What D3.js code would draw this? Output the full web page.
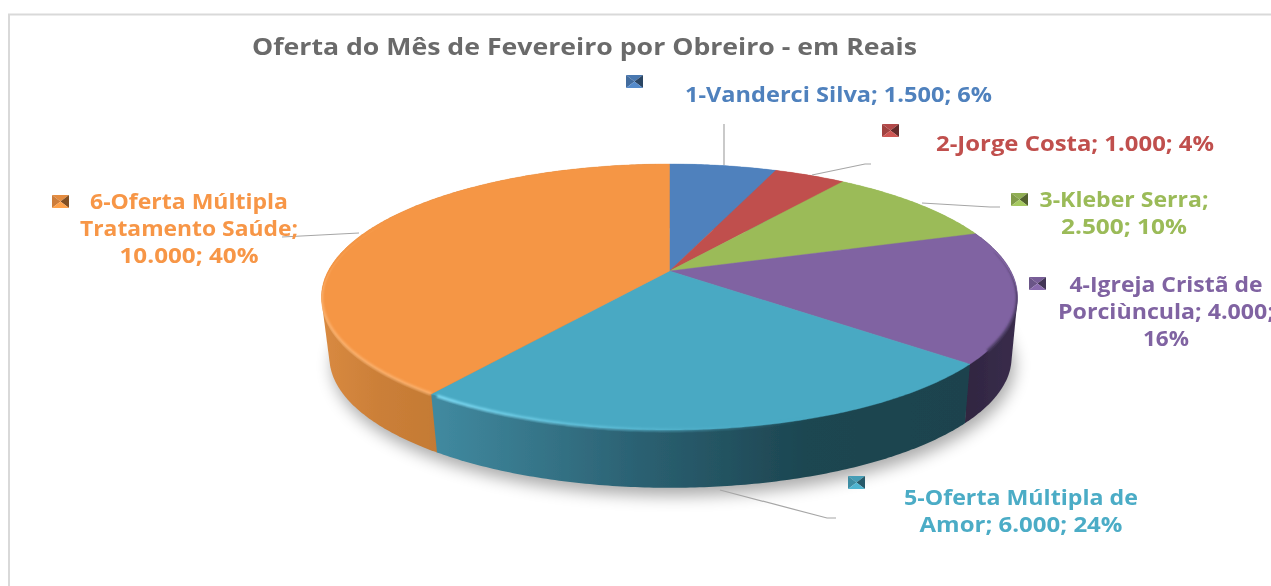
<!DOCTYPE html>
<html lang="en">
<head>
    <title>Oferta do Mês de Fevereiro</title>
    <meta charset="utf-8">
    <script src="https://d3js.org/d3.v7.min.js"></script>
    <style>
        html, body { margin: 0; padding: 0; background: #fff; overflow: hidden; }
        text { font-family: "Open Sans", sans-serif; font-weight: 700; text-anchor: middle; }
    </style>
</head>
<body>
<div id="visualization"></div>
<script>
    // Data
    const titleText = "Oferta do Mês de Fevereiro por Obreiro - em Reais";
    const values = [1500, 1000, 2500, 4000, 6000, 10000];
    const labelLines = [
        ["1-Vanderci Silva; 1.500; 6%"],
        ["2-Jorge Costa; 1.000; 4%"],
        ["3-Kleber Serra;", "2.500; 10%"],
        ["4-Igreja Cristã de", "Porciùncula; 4.000;", "16%"],
        ["5-Oferta Múltipla de", "Amor; 6.000; 24%"],
        ["6-Oferta Múltipla", "Tratamento Saúde;", "10.000; 40%"]
    ];

    // Styles
    const topColors = ["#4f81bd", "#c0504d", "#9bbb59", "#8064a2", "#4aa9c3", "#f59645"];
    const textColors = ["#4f81bd", "#c0504d", "#9bbb59", "#8064a2", "#4bacc6", "#f79646"];

    // Layout of the labels: centre x, first baseline, width of each line
    const labelX = [838.5, 1075, 1124, 1166, 1021, 189];
    const labelY = [102, 151, 207, 292, 505, 209];
    const lineWidths = [[307], [278], [169, 126], [193, 216, 46], [234, 203], [198, 218, 139]];
    const keyPos = [[626, 75], [882, 124], [1011, 193], [1029, 277], [848, 476], [52, 195]];
    const leaders = [
        [[724, 124], [724, 165]],
        [[812, 175], [865, 164], [871, 164]],
        [[922, 203], [990, 207], [1000, 207]],
        [],
        [[720, 490], [827, 518], [836, 518]],
        [[282, 237], [359, 233]]
    ];

    const width = 1271, height = 586;
    const lineHeight = 27;
    const p = 0.1955;              // perspective strength of the pie plane
    const sideScale = 0.98;        // lower rim is a little smaller
    const sideDrop = 61;
    const sideShift = 1;

    const svg = d3.select("#visualization")
        .append("svg")
        .attr("width", width)
        .attr("height", height);

    const defs = svg.append("defs");
    [["soft", 0.45], ["textSoft", 0.55], ["rimBlur", 1], ["shadowBlur", 8]].forEach(([id, s]) => {
        defs.append("filter").attr("id", id)
            .attr("x", "-20%").attr("y", "-20%").attr("width", "140%").attr("height", "140%")
            .append("feGaussianBlur").attr("stdDeviation", s);
    });

    function linearGradient(id, x1, x2, stops) {
        const g = defs.append("linearGradient").attr("id", id)
            .attr("gradientUnits", "userSpaceOnUse")
            .attr("x1", x1).attr("x2", x2).attr("y1", 0).attr("y2", 0);
        stops.forEach(([o, c, a]) => g.append("stop").attr("offset", o).attr("stop-color", c)
            .attr("stop-opacity", a === undefined ? 1 : a));
    }
    linearGradient("side3", 962, 1018, [[0, "#2f2540"], [1, "#3a2d4c"]]);
    linearGradient("side4", 438, 962, [[0, "#40899f"], [0.4, "#2a5f70"], [0.7, "#1d4651"], [1, "#1b434e"]]);
    linearGradient("side5", 321, 438, [[0, "#d98a41"], [0.5, "#cb7f38"], [1, "#c47a34"]]);
    linearGradient("rim4", 433, 970, [[0, "#7fdcf5"], [0.35, "#64c4de", 0.7], [0.7, "#4aa9c3", 0]]);

    // Plane of the pie seen in perspective
    const xScale = d3.scaleLinear().domain([-1, 1]).range([669.5 - 341.3, 669.5 + 341.3]);
    const yScale = d3.scaleLinear().domain([-1, 1]).range([271 - 127.9, 271 + 127.9]);
    const project = (angle, lower) => {
        const u = Math.sin(angle), v = -Math.cos(angle);
        const w = 1 - p * v;
        const s = lower ? sideScale : 1;
        const c = xScale(0);
        return [c + (lower ? sideShift : 0) + s * (xScale(u / w) - c),
            yScale(0) + (lower ? sideDrop : 0) + s * (yScale(v / w) - yScale(0))];
    };
    const rim = (a0, a1, lower) => {
        const n = Math.max(2, Math.ceil((a1 - a0) * 90));
        return d3.range(n + 1).map(i => project(a0 + (a1 - a0) * i / n, lower));
    };

    const line = d3.line();
    const arcs = d3.pie().sort(null).value(d => d)(values);
    const midAngle = d => (d.startAngle + d.endAngle) / 2;

    // Frame
    svg.append("path").attr("d", line([[9, 586], [9, 14.5], [1271, 14.5]]))
        .attr("fill", "none").attr("stroke", "#d9d9d9").attr("stroke-width", 2);

    // Shadow under the pie
    svg.append("path")
        .attr("d", line(rim(0, 2 * Math.PI, true).map(([x, y]) => [x + 3, y + 8])))
        .attr("fill", "#000").attr("opacity", 0.33).attr("filter", "url(#shadowBlur)");

    // Side walls, front-most last, then the top covers what is behind
    const body = svg.append("g").attr("filter", "url(#soft)");
    body.selectAll("path.side")
        .data(arcs.slice().sort((a, b) =>
            Math.abs(midAngle(b) - Math.PI) - Math.abs(midAngle(a) - Math.PI)))
        .join("path")
        .attr("class", "side")
        .attr("d", d => line(d3.polygonHull(rim(d.startAngle, d.endAngle, false)
            .concat(rim(d.startAngle, d.endAngle, true)))) + "Z")
        .attr("fill", d => d.index >= 3 ? `url(#side${d.index})` : topColors[d.index]);

    body.selectAll("path.top")
        .data(arcs)
        .join("path")
        .attr("class", "top")
        .attr("d", d => line([[xScale(0), yScale(0)]].concat(rim(d.startAngle, d.endAngle, false))) + "Z")
        .attr("fill", d => topColors[d.index])
        .attr("stroke", d => topColors[d.index])
        .attr("stroke-width", 0.4);

    // Bevel along the front of the rim
    const clip = defs.append("clipPath").attr("id", "wall");
    clip.append("path").attr("d", line(rim(0, 2 * Math.PI, false).map(([x, y]) => [x, y + 3])));
    const rims = svg.append("g").attr("clip-path", "url(#wall)");
    rims.append("path")
        .attr("d", line(rim(arcs[5].startAngle, arcs[5].endAngle - 1.15, false)))
        .attr("fill", "none").attr("stroke", "#fdb878").attr("stroke-width", 3)
        .attr("stroke-opacity", 0.8)
        .attr("filter", "url(#rimBlur)");
    rims.append("path")
        .attr("d", line(rim(arcs[4].startAngle + 0.02, arcs[4].endAngle - 0.02, false).reverse()))
        .attr("fill", "none").attr("stroke", "url(#rim4)").attr("stroke-width", 3)
        .attr("filter", "url(#rimBlur)");
    rims.append("path")
        .attr("d", line(rim(arcs[3].startAngle + 0.15, arcs[3].endAngle - 0.1, false)))
        .attr("fill", "none").attr("stroke", "#4a3a60").attr("stroke-width", 3)
        .attr("filter", "url(#rimBlur)");

    // Leader lines
    svg.append("g").selectAll("path")
        .data(leaders.filter(l => l.length))
        .join("path")
        .attr("d", d => line(d))
        .attr("fill", "none")
        .attr("stroke", "#a6a6a6")
        .attr("stroke-width", 1.2);

    // Legend keys with the bevelled look
    const keyW = 17, keyH = 13;
    const keys = svg.append("g").attr("filter", "url(#soft)");
    keyPos.forEach(([x, y], i) => {
        const mid = [x + keyW / 2, y + keyH / 2];
        const c = d3.color(topColors[i]);
        const g = keys.append("g");
        g.append("path").attr("d", line([[x, y], [x + keyW, y], mid]) + "Z").attr("fill", c.darker(0.2));
        g.append("path").attr("d", line([[x, y], [x, y + keyH], mid]) + "Z").attr("fill", c.darker(0.5));
        g.append("path").attr("d", line([[x + keyW, y], [x + keyW, y + keyH], mid]) + "Z").attr("fill", c.darker(1.8));
        g.append("path").attr("d", line([[x, y + keyH], [x + keyW, y + keyH], mid]) + "Z").attr("fill", c.brighter(0.2));
    });

    // Texts
    const texts = svg.append("g").attr("filter", "url(#textSoft)");
    texts.append("text")
        .attr("x", 584.5).attr("y", 55)
        .attr("font-size", 23.5)
        .attr("fill", "#6b6b6b")
        .attr("textLength", 665)
        .attr("lengthAdjust", "spacingAndGlyphs")
        .text(titleText);

    labelLines.forEach((lines, i) => {
        texts.selectAll(null)
            .data(lines)
            .join("text")
            .attr("x", labelX[i])
            .attr("y", (d, j) => labelY[i] + j * lineHeight)
            .attr("font-size", 21)
            .attr("fill", textColors[i])
            .attr("textLength", (d, j) => lineWidths[i][j])
            .attr("lengthAdjust", "spacingAndGlyphs")
            .text(d => d);
    });
</script>
</body>
</html>
